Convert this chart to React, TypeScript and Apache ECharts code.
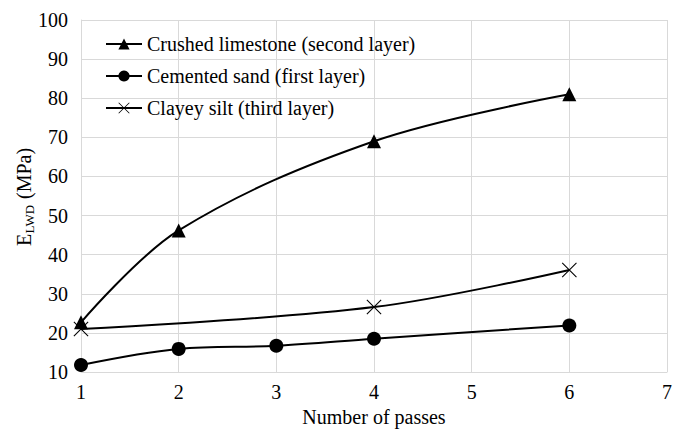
import React, { useEffect, useRef } from "react";
import * as echarts from "echarts";

const passesLimestone = [1, 2, 4, 6];
const valuesLimestone = [22.7, 46.2, 69, 81];
const passesSand = [1, 2, 3, 4, 6];
const valuesSand = [11.8, 15.9, 16.7, 18.5, 21.9];
const passesSilt = [1, 4, 6];
const valuesSilt = [21, 26.6, 36.1];
const legendNames = [
  "Crushed limestone (second layer)",
  "Cemented sand (first layer)",
  "Clayey silt (third layer)",
];
const yTitleMain = "E";
const yTitleSub = "LWD";
const yTitleUnit = "(MPa)";

const FONT = "Liberation Serif";
const CROSS =
  "path://M0,5 L5,0 L50,45 L95,0 L100,5 L55,50 L100,95 L95,100 L50,55 L5,100 L0,95 L45,50 Z";

export default function App() {
  const ref = useRef<HTMLDivElement>(null);
  useEffect(() => {
    if (!ref.current) return;
    document.body.style.margin = "0";
    const chart = echarts.init(ref.current, null, { renderer: "svg" });
    const zip = (xs: number[], ys: number[]) => xs.map((x, i) => [x, ys[i]]);
    const baseSeries = {
      type: "line" as const,
      smooth: 0.35,
      lineStyle: { color: "#000", width: 2 },
      itemStyle: { color: "#000" },
    };
    chart.setOption({
      animation: false,
      textStyle: { fontFamily: FONT, color: "#000" },
      grid: { left: 81, right: 9, top: 20, bottom: 57, containLabel: false, outerBoundsMode: "none" },
      legend: {
        orient: "vertical",
        left: 100,
        top: 29,
        itemWidth: 36,
        itemHeight: 14,
        itemGap: 12,
        textStyle: { fontFamily: FONT, fontSize: 20, color: "#000" },
        data: legendNames,
      },
      graphic: [
        {
          type: "group",
          x: 24,
          y: 246,
          rotation: Math.PI / 2,
          children: [
            {
              type: "text",
              x: 0,
              y: 0,
              style: { text: yTitleMain, fontFamily: FONT, fontSize: 20, fill: "#000", verticalAlign: "middle", align: "left" },
            },
            {
              type: "text",
              x: 12.5,
              y: 5,
              style: { text: yTitleSub, fontFamily: FONT, fontSize: 13, fill: "#000", verticalAlign: "middle", align: "left" },
            },
            {
              type: "text",
              x: 47,
              y: 0,
              style: { text: yTitleUnit, fontFamily: FONT, fontSize: 20, fill: "#000", verticalAlign: "middle", align: "left" },
            },
          ],
        },
      ],
      xAxis: {
        type: "value",
        min: 1,
        max: 7,
        interval: 1,
        name: "Number of passes",
        nameLocation: "middle",
        nameGap: 35,
        nameTextStyle: { fontFamily: FONT, fontSize: 20, color: "#000" },
        axisLine: { show: true, lineStyle: { color: "#d9d9d9", width: 1 } },
        axisTick: { show: false },
        axisLabel: { fontFamily: FONT, fontSize: 20, color: "#000", margin: 10 },
        splitLine: { show: true, lineStyle: { color: "#d9d9d9", width: 1 } },
      },
      yAxis: {
        type: "value",
        min: 10,
        max: 100,
        interval: 10,
        axisLine: { show: true, lineStyle: { color: "#d9d9d9", width: 1 } },
        axisTick: { show: false },
        axisLabel: { fontFamily: FONT, fontSize: 20, color: "#000", margin: 13 },
        splitLine: { show: true, lineStyle: { color: "#d9d9d9", width: 1 } },
      },
      series: [
        {
          ...baseSeries,
          name: legendNames[0],
          symbol: "triangle",
          symbolSize: 14,
          data: zip(passesLimestone, valuesLimestone),
        },
        {
          ...baseSeries,
          name: legendNames[1],
          symbol: "circle",
          symbolSize: 14,
          data: zip(passesSand, valuesSand),
        },
        {
          ...baseSeries,
          name: legendNames[2],
          symbol: CROSS,
          symbolSize: 15,
          data: zip(passesSilt, valuesSilt),
        },
      ],
    });
    return () => chart.dispose();
  }, []);
  return <div ref={ref} style={{ width: 676, height: 429 }} />;
}
